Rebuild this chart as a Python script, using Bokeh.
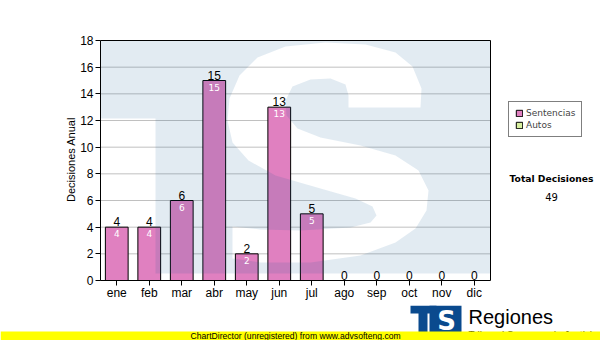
import numpy as np
from bokeh.plotting import figure
from bokeh.layouts import column
from bokeh.models import (ColumnDataSource, Label, Legend, LegendItem, FixedTicker, Range1d, Plot)
from bokeh.embed import file_html
from bokeh.resources import INLINE
from bokeh.core.properties import value

# ---------------- data ----------------
months = ["ene", "feb", "mar", "abr", "may", "jun", "jul", "ago", "sep", "oct", "nov", "dic"]
sentencias = [4, 4, 6, 15, 2, 13, 5, 0, 0, 0, 0, 0]
autos = [0, 0, 0, 0, 0, 0, 0, 0, 0, 0, 0, 0]
series_names = ["Sentencias", "Autos"]
y_ticks = [0, 2, 4, 6, 8, 10, 12, 14, 16, 18]
y_title = "Decisiones Anual"
total_title = "Total Decisiones"
total_value = "49"
footer = "ChartDirector (unregistered) from www.advsofteng.com"
brand = "Regiones"
brand_sub = "Tribunal Supremo de Justicia"

# ---------------- layout helpers ----------------
FL, FR, FT, FB = 100, 490, 40, 280          # chart box in page pixels
NX, YMAX = len(months), 18
PXX = (FR - FL) / NX                        # px per category
PXY = (FB - FT) / YMAX                      # px per unit


def dx(X):
    return (X - FL) / PXX


def dy(Y):
    return (FB - Y) / PXY


MAIN_H = 305
p = figure(width=600, height=MAIN_H,
           x_range=Range1d(0, (600 - FL) / PXX),
           y_range=Range1d(0, (FB - 38) / PXY),
           output_backend="svg", toolbar_location=None,
           min_border_left=FL, min_border_right=0, min_border_top=38,
           min_border_bottom=MAIN_H - FB)
p.background_fill_color = "white"
p.border_fill_color = "white"
p.outline_line_color = None

centers = [i + 0.5 for i in range(NX)]

# axes
p.xaxis.ticker = FixedTicker(ticks=centers)
p.xaxis.major_label_overrides = {c: m for c, m in zip(centers, months)}
p.xaxis.bounds = (0, NX)
p.yaxis.ticker = FixedTicker(ticks=y_ticks)
p.yaxis.bounds = (0, YMAX)
for ax in (p.xaxis[0], p.yaxis[0]):
    ax.axis_line_color = "black"
    ax.major_tick_line_color = "black"
    ax.major_tick_out = 5
    ax.major_tick_in = 0
    ax.minor_tick_line_color = None
    ax.major_label_text_font = "Liberation Sans"
    ax.major_label_text_font_size = "12px"
    ax.major_label_text_color = "black"
p.yaxis.major_label_standoff = 2
p.xaxis.major_label_standoff = 0
p.yaxis.axis_label = y_title
p.yaxis.axis_label_text_font = "Liberation Sans"
p.yaxis.axis_label_text_font_size = "11px"
p.yaxis.axis_label_text_font_style = "normal"
p.yaxis.axis_label_text_color = "black"
p.yaxis.axis_label_standoff = 0
p.grid.visible = False

# horizontal grid lines limited to chart box
p.segment(x0=[0] * len(y_ticks), x1=[NX] * len(y_ticks), y0=y_ticks, y1=y_ticks,
          line_color="#c0c0c0", line_width=1)

# bars
src = ColumnDataSource(dict(x=centers, top=sentencias, lbl=[str(v) for v in sentencias]))
bars = p.vbar(x="x", top="top", width=0.7, source=src, fill_color="#e080c0",
              line_color="black", line_width=1)
autos_r = p.vbar(x=centers, top=autos, width=0.7, fill_color="#d8f0a0",
                 line_color="black", line_width=1)

# watermark (TS logo) drawn translucently over the bars; the white "S" is a hole
outer = [(100, 40), (490, 40), (490, 273), (155, 273), (155, 118), (100, 118)]
s_outline = [
    (420, 107), (421, 88), (412, 66), (395, 52), (365, 44), (325, 42), (285, 46),
    (257, 57), (239, 75), (229, 98), (227, 120), (232, 142), (248, 160), (275, 175),
    (320, 188), (355, 198), (372, 206), (376, 215), (370, 222), (350, 227), (300, 230),
    (260, 229), (232, 226),
    (232, 258), (260, 262), (310, 262), (360, 255), (395, 242), (415, 228), (426, 210),
    (428, 190), (418, 170), (395, 155), (360, 145), (320, 137), (297, 128), (286, 115),
    (285, 100), (292, 86), (310, 79), (330, 78), (345, 84), (348, 95), (348, 107),
]
wm_xs = [[[[dx(a) for a, _ in outer], [dx(a) for a, _ in s_outline]]]]
wm_ys = [[[[dy(b) for _, b in outer], [dy(b) for _, b in s_outline]]]]
p.multi_polygons(xs=wm_xs, ys=wm_ys, fill_color="#145a96", fill_alpha=0.12, line_color=None)

# chart box outline
p.quad(left=[0], right=[NX], bottom=[0], top=[YMAX], fill_color=None,
       line_color="black", line_width=1)

# value labels
p.text(x="x", y="top", text="lbl", source=src, text_align="center", text_baseline="bottom",
       y_offset=-1, text_font=value("Liberation Sans"), text_font_size="12px", text_color="black")
pos = [i for i, v in enumerate(sentencias) if v > 0]
src_in = ColumnDataSource(dict(x=[centers[i] for i in pos], top=[sentencias[i] for i in pos],
                               lbl=[str(sentencias[i]) for i in pos]))
p.text(x="x", y="top", text="lbl", source=src_in, text_align="center", text_baseline="top",
       y_offset=3, text_font=value("DejaVu Sans"), text_font_size="9px", text_color="white")

# legend
legend = Legend(items=[LegendItem(label=series_names[0], renderers=[bars]),
                       LegendItem(label=series_names[1], renderers=[autos_r])],
                location=(408, 143), glyph_width=8, glyph_height=8, label_height=10,
                label_width=10, spacing=2, padding=6, margin=0, label_standoff=3,
                label_text_font="DejaVu Sans", label_text_font_size="9px",
                border_line_color="black", border_line_width=1,
                background_fill_color="white", background_fill_alpha=1)
p.add_layout(legend, "center")

# total
p.add_layout(Label(x=dx(551), y=dy(178), text=total_title, text_align="center",
                   text_baseline="middle", text_font="DejaVu Sans", text_font_size="9.2px",
                   text_font_style="bold", text_color="black"))
p.add_layout(Label(x=dx(551), y=dy(196), text=total_value, text_align="center",
                   text_baseline="middle", text_font="DejaVu Sans", text_font_size="10px",
                   text_color="black"))

# ---------------- bottom strip (page pixel coordinates) ----------------
b = figure(width=600, height=340 - MAIN_H, x_range=Range1d(0, 600),
           y_range=Range1d(340, MAIN_H), output_backend="svg", toolbar_location=None,
           min_border=0, min_border_left=0, min_border_right=0, min_border_top=0,
           min_border_bottom=0)
b.axis.visible = False
b.grid.visible = False
b.outline_line_color = None
b.background_fill_color = "white"
b.border_fill_color = "white"
if "frame_align" in Plot.properties():
    p.frame_align = False
    b.frame_align = False

# brand logo
b.patch(x=[410, 436, 436, 427, 427, 418, 418, 410], y=[305, 305, 313, 313, 333, 333, 313, 313],
        fill_color="#0a4a8e", line_color=None)
b.quad(left=[429], right=[461], top=[305], bottom=[333], fill_color="#0a4a8e", line_color=None)
b.text(x=[446], y=[320], text=["S"], text_align="center", text_baseline="middle",
       text_font=value("DejaVu Sans"), text_font_size="26px", text_font_style="bold",
       text_color="white")
b.text(x=[468], y=[316], text=[brand], text_align="left", text_baseline="middle",
       text_font=value("Liberation Sans"), text_font_size="20px", text_color="black")
b.text(x=[468], y=[329], text=[brand_sub], text_align="left", text_baseline="top",
       text_font=value("Liberation Sans"), text_font_size="10px", text_color="black")

# footer band
b.quad(left=[0], right=[600], top=[331], bottom=[340], fill_color="#ffff00", line_color=None)
b.text(x=[190], y=[335.5], text=[footer], text_align="left", text_baseline="middle",
       text_font=value("Liberation Sans"), text_font_size="8.6px", text_color="black")

layout = column(p, b, spacing=0)
open("out.html", "w").write(file_html(layout, INLINE))
